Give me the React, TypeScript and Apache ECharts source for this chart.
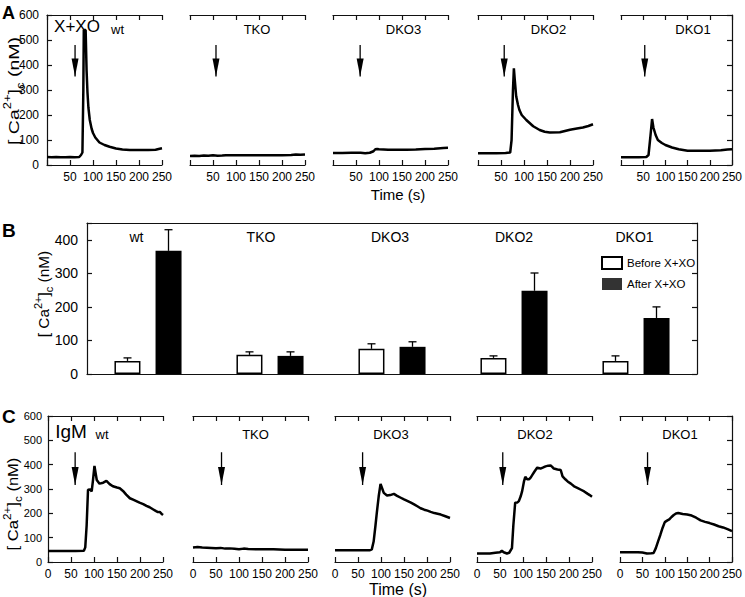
import React, { useEffect, useRef } from 'react';
import * as echarts from 'echarts';

// ---------- data ----------
const panelNames = ['wt', 'TKO', 'DKO3', 'DKO2', 'DKO1'];

// Panel A: X+XO traces [time (s), [Ca2+]c (nM)]
const aWt = [[0,32],[10,31],[20,32],[30,31],[40,31],[50,32],[60,31],[70,32],[74,40],[77,50],[79,300],[80,540],[84,540],[86,380],[88,290],[90,230],[93,180],[97,145],[100,128],[105,110],[114,90],[125,80],[136,73],[150,66],[164,62],[180,60],[200,60],[220,60],[236,61],[245,65],[250,67]];
const aTko = [[0,36],[10,37],[20,36],[30,38],[40,37],[50,39],[60,37],[70,38],[78,39],[100,39],[150,39],[200,39],[220,40],[230,42],[240,41],[250,42]];
const aDko3 = [[0,48],[20,48],[40,49],[60,49],[70,47],[80,49],[88,55],[92,63],[96,64],[100,63],[120,61],[140,61],[160,61],[180,62],[200,64],[220,65],[240,68],[250,69]];
const aDko2 = [[0,47],[20,47],[40,47],[60,48],[70,50],[73,100],[76,300],[78,387],[80,340],[83,275],[87,240],[90,220],[95,200],[105,180],[120,155],[134,140],[145,133],[156,130],[178,131],[200,141],[215,146],[228,150],[240,156],[250,163]];
const aDko1 = [[0,31],[20,31],[40,31],[57,32],[62,40],[66,110],[70,184],[73,150],[78,120],[83,100],[92,88],[100,80],[115,70],[130,63],[150,57],[175,57],[200,57],[225,59],[240,62],[250,63]];
const aTraces = [aWt, aTko, aDko3, aDko2, aDko1];
const aArrowX = [61, 56.5, 59, 57, 53.5];
const aArrowTop = 480;
const aArrowTip = 354;

// Panel C: IgM traces
const cWt = [[0,45],[20,45],[40,45],[60,45],[78,46],[81,60],[84,150],[87,297],[92,298],[95,290],[98,340],[101,395],[104,360],[106,337],[112,322],[120,326],[127,333],[134,320],[141,311],[150,306],[156,303],[163,292],[170,277],[178,262],[185,256],[192,250],[199,244],[207,238],[214,231],[221,225],[228,217],[235,209],[239,205],[243,206],[247,198],[250,193]];
const cTko = [[0,60],[10,62],[20,60],[30,59],[40,58],[50,57],[60,58],[70,55],[80,56],[90,54],[100,52],[110,55],[120,53],[150,52],[175,52],[200,50],[225,50],[250,50]];
const cDko3 = [[0,48],[20,48],[40,48],[60,48],[75,48],[80,52],[84,84],[88,150],[91,204],[95,270],[99,321],[103,300],[106,284],[113,273],[120,275],[128,280],[135,272],[143,264],[150,257],[157,251],[165,244],[172,237],[179,229],[186,221],[194,215],[201,211],[208,206],[216,201],[223,198],[230,195],[240,188],[250,181]];
const cDko2 = [[0,35],[15,35],[28,35],[40,38],[50,40],[54,46],[58,40],[65,35],[70,38],[76,57],[79,150],[83,244],[88,245],[91,250],[95,270],[98,290],[102,330],[105,350],[109,340],[113,340],[117,348],[120,357],[125,372],[131,388],[138,384],[143,388],[149,393],[155,396],[160,397],[164,390],[167,384],[175,380],[182,378],[186,352],[192,340],[197,331],[204,322],[211,311],[218,305],[226,297],[233,290],[240,281],[245,275],[250,268]];
const cDko1 = [[0,40],[20,40],[40,40],[50,39],[60,35],[70,36],[75,37],[80,57],[85,85],[90,111],[95,140],[100,164],[105,170],[110,175],[115,185],[120,193],[125,199],[130,201],[140,197],[150,195],[160,191],[170,182],[180,171],[190,165],[200,160],[210,154],[220,147],[230,142],[240,135],[250,127]];
const cTraces = [cWt, cTko, cDko3, cDko2, cDko1];
const cArrowX = [59, 62, 60, 56, 61.5];
const cArrowTop = 451;
const cArrowTip = 316;

// Panel B: bar chart
const beforeMean = [39, 57, 75, 48, 39];
const beforeErr = [9, 9, 15, 6, 15];
const afterMean = [367, 54, 81, 248, 167];
const afterErr = [63, 12, 15, 53, 33];

// ---------- layout ----------
const FONT = '"Liberation Sans", Arial, Helvetica, sans-serif';
const AX = { color: '#111', width: 1.2 };
const aLefts = [47, 190, 333, 478, 621];
const cLefts = [48, 193, 335, 477, 620];
const PW = 115;

function timeAxis(grid: number, pos: string, showLabels: boolean, showZero: boolean, fontSize: number) {
  return {
    type: 'value', gridIndex: grid, position: pos, min: 0, max: 250, interval: 50,
    axisLine: { show: true, onZero: false, lineStyle: AX },
    axisTick: { show: true, inside: true, length: 5, lineStyle: AX },
    axisLabel: {
      show: showLabels, fontSize, color: '#000', fontFamily: FONT, margin: 6,
      formatter: (v: number) => (v === 0 && !showZero ? '' : String(v)),
    },
    splitLine: { show: false },
  };
}

function concAxis(grid: number, i: number, fontSize: number, margin: number) {
  return {
    type: 'value', gridIndex: grid, min: 0, max: 600, interval: 100,
    show: i === 0 || i === 4,
    position: i === 4 ? 'right' : 'left',
    axisLine: { show: true, onZero: false, lineStyle: AX },
    axisTick: { show: true, inside: true, length: 5, lineStyle: AX },
    axisLabel: { show: i === 0, fontSize, color: '#000', fontFamily: FONT, margin },
    splitLine: { show: false },
  };
}

function arrowSeries(xi: number, yi: number, x: number, top: number, tip: number) {
  return {
    type: 'line', xAxisIndex: xi, yAxisIndex: yi, silent: true, z: 5,
    data: [
      { value: [x, top], symbol: 'none' },
      { value: [x, tip], symbol: 'path://M0,0L10,0L5,24Z', symbolSize: [7, 18], symbolOffset: [0, -9] },
    ],
    showSymbol: true,
    lineStyle: { color: '#000', width: 1.3 },
    itemStyle: { color: '#000' },
  };
}

function txt(text: string, x: number, y: number, fontSize: number, bold = false, align = 'center') {
  return {
    type: 'text', x, y, silent: true,
    style: { text, fill: '#000', fontSize, fontFamily: FONT, fontWeight: bold ? 'bold' : 'normal', align, verticalAlign: 'middle' },
  };
}

function yName(x: number, y: number, fontSize: number, scale: number) {
  const small = Math.round(fontSize * 0.68);
  return {
    type: 'text', x, y, rotation: Math.PI / 2, scaleX: scale, silent: true,
    style: {
      text: '[ Ca{sup|2+}]{sub|c} (nM)', fill: '#000', fontSize, fontFamily: FONT,
      align: 'center', verticalAlign: 'middle', lineHeight: Math.round(fontSize * 1.5),
      rich: {
        sup: { fontSize: small, fontFamily: FONT, fill: '#000', verticalAlign: 'top', lineHeight: small },
        sub: { fontSize: small, fontFamily: FONT, fill: '#000', verticalAlign: 'bottom', lineHeight: small },
      },
    },
  };
}

function errSeries(mean: number[], err: number[], offset: number) {
  return {
    type: 'custom', xAxisIndex: 20, yAxisIndex: 10, silent: true, z: 4,
    data: mean.map((m, i) => [i, m, err[i]]),
    renderItem: (_p: any, api: any) => {
      const c = api.value(0), v = api.value(1), e = api.value(2);
      const p0 = api.coord([c, v]);
      const p1 = api.coord([c, v + e]);
      const x = p0[0] + offset;
      return {
        type: 'group',
        children: [
          { type: 'line', shape: { x1: x, y1: p0[1], x2: x, y2: p1[1] }, style: { stroke: '#000', lineWidth: 1.3 } },
          { type: 'line', shape: { x1: x - 4, y1: p1[1], x2: x + 4, y2: p1[1] }, style: { stroke: '#000', lineWidth: 1.3 } },
        ],
      };
    },
  };
}

function buildOption() {
  const grid: any[] = [];
  const xAxis: any[] = [];
  const yAxis: any[] = [];
  const series: any[] = [];

  // Panel A grids 0..4
  for (let i = 0; i < 5; i++) {
    const g = i;
    grid.push({ left: aLefts[i], top: 15, width: PW, height: 150 });
    xAxis.push(timeAxis(g, 'bottom', true, false, 12));
    xAxis.push(timeAxis(g, 'top', false, false, 12));
    yAxis.push(concAxis(g, i, 12, 8));
    series.push({ type: 'line', xAxisIndex: 2 * g, yAxisIndex: g, data: aTraces[i], symbol: 'none', silent: true, z: 3, lineStyle: { color: '#000', width: 2.5 } });
    series.push(arrowSeries(2 * g, g, aArrowX[i], aArrowTop, aArrowTip));
  }
  // Panel C grids 5..9
  for (let i = 0; i < 5; i++) {
    const g = 5 + i;
    grid.push({ left: cLefts[i], top: 416, width: PW, height: 146 });
    xAxis.push(timeAxis(g, 'bottom', true, true, 12));
    xAxis.push(timeAxis(g, 'top', false, true, 12));
    yAxis.push(concAxis(g, i, 11, 6));
    series.push({ type: 'line', xAxisIndex: 2 * g, yAxisIndex: g, data: cTraces[i], symbol: 'none', silent: true, z: 3, lineStyle: { color: '#000', width: 2.5 } });
    series.push(arrowSeries(2 * g, g, cArrowX[i], cArrowTop, cArrowTip));
  }
  // Panel B grid 10
  grid.push({ left: 87, top: 223, width: 610, height: 151 });
  xAxis.push({ type: 'category', gridIndex: 10, data: panelNames, position: 'bottom', axisLine: { show: true, onZero: false, lineStyle: AX }, axisTick: { show: false }, axisLabel: { show: false } });
  xAxis.push({ type: 'category', gridIndex: 10, data: panelNames, position: 'top', axisLine: { show: true, onZero: false, lineStyle: AX }, axisTick: { show: false }, axisLabel: { show: false } });
  const bY = (pos: string, labels: boolean) => ({
    type: 'value', gridIndex: 10, min: 0, max: 450, interval: 100, position: pos,
    axisLine: { show: true, onZero: false, lineStyle: AX },
    axisTick: { show: true, inside: true, length: 5, lineStyle: AX },
    axisLabel: { show: labels, fontSize: 14, color: '#000', fontFamily: FONT, margin: 9, formatter: (v: number) => (v % 100 === 0 ? String(v) : '') },
    splitLine: { show: false },
  });
  yAxis.push(bY('left', true));
  yAxis.push(bY('right', false));
  series.push({ type: 'bar', name: 'Before X+XO', xAxisIndex: 20, yAxisIndex: 10, data: beforeMean, barWidth: 26, barGap: '58%', itemStyle: { color: '#fff', borderColor: '#000', borderWidth: 1.5 } });
  series.push({ type: 'bar', name: 'After X+XO', xAxisIndex: 20, yAxisIndex: 10, data: afterMean, barWidth: 26, barGap: '58%', itemStyle: { color: '#000' } });
  series.push(errSeries(beforeMean, beforeErr, -20.5));
  series.push(errSeries(afterMean, afterErr, 20.5));

  const aNameX = [117.5, 257, 403.5, 548.5, 693];
  const cNameX = [102, 255.5, 391, 535, 680];
  const bNameX = [136.5, 261, 390, 514, 634.5];
  const graphic: any[] = [
    txt('A', 2, 13, 18, true, 'left'),
    txt('B', 2, 230.5, 19, true, 'left'),
    txt('C', 2, 416, 19, true, 'left'),
    txt('X+XO', 77, 26, 17),
    txt('IgM', 71, 431, 19),
    txt('Time (s)', 398, 194, 15),
    txt('Time (s)', 398, 589, 16),
    yName(14, 91, 15, 1.3),
    yName(44, 294, 14, 1.1),
    yName(13, 504, 14, 1.18),
  ];
  panelNames.forEach((n, i) => {
    graphic.push(txt(n, aNameX[i], 29.5, 13));
    graphic.push(txt(n, cNameX[i], 434, 13));
    graphic.push(txt(n, bNameX[i], 237, 14));
  });

  return {
    animation: false,
    backgroundColor: '#fff',
    grid,
    xAxis,
    yAxis,
    series,
    graphic,
    legend: {
      show: true, left: 601, top: 256, orient: 'vertical', padding: 0,
      itemWidth: 20, itemHeight: 12, itemGap: 8, selectedMode: false,
      textStyle: { fontSize: 11.5, color: '#000', fontFamily: FONT },
      data: [
        { name: 'Before X+XO', icon: 'rect' },
        { name: 'After X+XO', icon: 'rect', itemStyle: { color: '#333' } },
      ],
    },
  };
}

export default function App() {
  const ref = useRef<HTMLDivElement>(null);
  useEffect(() => {
    if (!ref.current) return;
    const chart = echarts.init(ref.current, undefined, { renderer: 'svg' });
    chart.setOption(buildOption() as any);
    return () => chart.dispose();
  }, []);
  return <div ref={ref} style={{ position: 'absolute', left: 0, top: 0, width: 745, height: 597, background: '#fff' }} />;
}
